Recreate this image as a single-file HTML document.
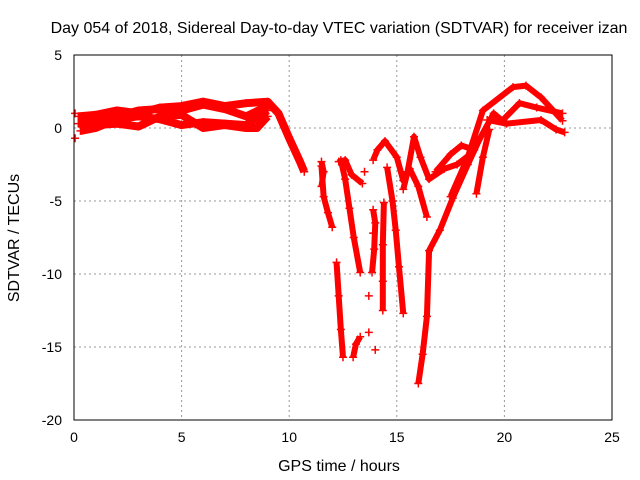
<!DOCTYPE html>
<html><head><meta charset="utf-8"><style>
html,body{margin:0;padding:0;background:#fff}
svg{display:block;font-family:"Liberation Sans",sans-serif}
</style></head><body>
<svg id="chart" width="640" height="480">
<text x="339" y="33" font-size="16" text-anchor="middle">Day 054 of 2018, Sidereal Day-to-day VTEC variation (SDTVAR) for receiver izan</text>
<text x="339" y="471" font-size="16" text-anchor="middle">GPS time / hours</text>
<text transform="translate(19,238) rotate(-90)" font-size="16" text-anchor="middle">SDTVAR / TECUs</text>
<g id="grid"></g>
<g id="ticks"></g>
<g id="marks"></g>
<rect x="74" y="55" width="538" height="365" fill="none" stroke="#000" stroke-width="1"/>
</svg>
<script>
const xTicks=[0,5,10,15,20,25];
const yTicks=[5,0,-5,-10,-15,-20];
const trackA=[[0.2,0.3],[1,0.4],[2,0.8],[3,1.2],[4,1.3],[5,1.2],[6,1.6],[7,1.3],[8,0.8],[9,1.5]];
const trackB=[[0.3,-0.2],[1,0],[2,0.6],[3,0.8],[4,0.6],[5,0.2],[6,0.4],[7,0.3],[8,0.2],[9,1.2]];
const trackC=[[0.2,0.8],[1,0.9],[2,1.2],[3,1.0],[4,1.4],[5,1.5],[6,1.8],[7,1.5],[8,1.7],[9,1.8],[9.5,1.0],[10,-0.7],[10.5,-2.3],[10.7,-3]];
const trackD=[[1,0.2],[2,0.3],[3,0.1],[4,0.8],[5,0.9],[6,0.0],[7,0.2],[8,0.0],[8.5,0.0],[9,0.8]];
const trackE=[[11.5,-2.6],[11.6,-4.7],[11.8,-5.8],[12.0,-6.8]];
const trackF=[[12.4,-2.2],[12.6,-3.5],[12.8,-5.5],[13.0,-7.5],[13.3,-9.9]];
const trackG=[[12.2,-9.2],[12.3,-11.5],[12.4,-13.8],[12.5,-15.7]];
const trackH=[[12.97,-15.7],[13.1,-14.8],[13.3,-14.3]];
const trackI=[[13.9,-2.2],[14.1,-1.5],[14.45,-0.9],[15.0,-2.0],[15.3,-3.6],[15.6,-2.8],[16.0,-4.0],[16.4,-6.1]];
const trackJ=[[14.55,-2.7],[14.8,-5.0],[14.95,-7.0],[15.1,-9.5],[15.3,-12.7]];
const trackK=[[14.4,-5.1],[14.35,-8.0],[14.35,-10.5],[14.35,-12.5]];
const trackL=[[13.9,-5.6],[14.0,-6.5],[13.95,-8.3],[13.85,-9.9]];
const trackM=[[15.3,-4.2],[15.5,-3.0],[15.8,-0.6],[16.1,-2.0],[16.5,-3.5],[17.2,-2.8],[17.8,-2.5],[18.5,-1.7]];
const trackN=[[18.9,-0.6],[18.3,-2.5],[17.6,-4.8],[17.0,-7.0],[16.5,-8.4],[16.4,-12.9],[16.2,-15.5],[16.0,-17.5]];
const trackO=[[19.3,-0.1],[19.0,-2.0],[18.7,-4.5]];
const trackP=[[17.5,-4.7],[18.3,-2.0],[19.0,1.2],[20.4,2.8],[21.0,2.9],[21.7,2.1],[22.7,0.5]];
const trackQ=[[18.5,-1.7],[19.5,1.0],[19.9,0.5],[20.7,1.7],[21.5,1.4],[22.7,1.0]];
const trackR=[[19.2,0.55],[20.1,0.3],[21.7,0.55],[22.4,-0.1],[22.8,-0.3]];
const trackS=[[11.5,-2.3],[11.6,-3.0],[11.5,-4.0]];
const trackT=[[12.3,-2.3],[12.6,-2.2],[12.9,-3.2],[13.4,-3.8]];
const trackU=[[16.8,-3.0],[17.5,-1.8],[18.0,-1.2],[18.6,-1.5]];
const dots=[[13.9,-7.2],[13.7,-11.5],[13.7,-14.0],[14.0,-15.2],[13.5,-3.0],[0.05,-0.7],[0.05,1.0]];
const tracks=[trackA,trackB,trackC,trackD,trackE,trackF,trackG,trackH,trackI,trackJ,trackK,trackL,trackM,trackN,trackO,trackP,trackQ,trackR,trackS,trackT,trackU];
const NS="http://www.w3.org/2000/svg";
const X=h=>74+h*(538/25);
const Y=v=>128-v*(365/25);
const grid=document.getElementById('grid'),ticks=document.getElementById('ticks'),marks=document.getElementById('marks');
function mk(t,a,p){const e=document.createElementNS(NS,t);for(const k in a)e.setAttribute(k,a[k]);p.appendChild(e);return e;}
xTicks.forEach(t=>{
  if(t>0&&t<25){const g=mk('line',{x1:X(t),x2:X(t),y1:55,y2:420,stroke:'#999','stroke-dasharray':'2,3'},grid);
  
  }
  const tl=mk('text',{x:X(t),y:442,'font-size':14,'text-anchor':'middle'},ticks);tl.textContent=t;
  
  
});
yTicks.forEach(t=>{
  if(t<5&&t>-20){const g=mk('line',{x1:74,x2:612,y1:Y(t),y2:Y(t),stroke:'#999','stroke-dasharray':'2,3'},grid);
  
  }
  const tl=mk('text',{x:62,y:Y(t)+5,'font-size':14,'text-anchor':'end'},ticks);tl.textContent=t;
  
  
});
function plus(h,v){const x=X(h),y=Y(v);
  const p=mk('path',{d:`M${x-4},${y}h8M${x},${y-4}v8`,stroke:'#f00','stroke-width':1.5,fill:'none'},marks);
  
  }
tracks.forEach((tr,i)=>{
  const pl=mk('polyline',{points:tr.map(p=>X(p[0])+','+Y(p[1])).join(' '),stroke:'#f00','stroke-width':i<4?8:6,fill:'none','stroke-linejoin':'round'},marks);
  
  
  tr.forEach(p=>plus(p[0],p[1]));
});
dots.forEach(p=>plus(p[0],p[1]));
</script>
</body></html>
